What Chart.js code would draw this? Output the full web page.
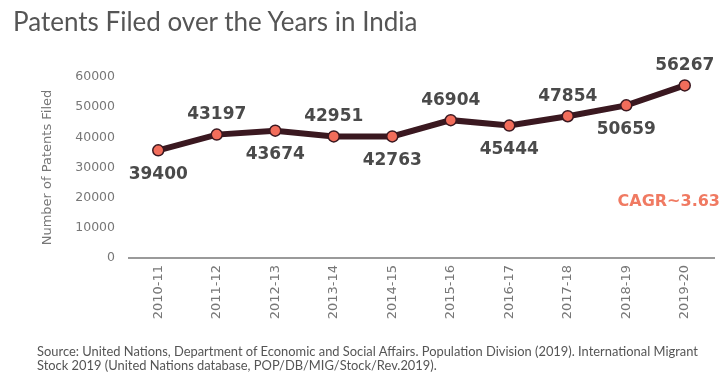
<!DOCTYPE html>
<html>
<head>
<meta charset="utf-8">
<script src="https://cdn.jsdelivr.net/npm/chart.js@4.4.1/dist/chart.umd.min.js"></script>
<style>
  body { margin: 0; background: #fff; }
  #wrap { position: relative; width: 721px; height: 375px; overflow: hidden; }
  #titulo { position: absolute; left: 13px; top: 5px; font: 26px Lato, sans-serif; color: #555; white-space: nowrap; }
  #cagr { position: absolute; right: 1px; top: 191px; font: bold 16px "DejaVu Sans", sans-serif; color: #f07a62; }
  #fonte { position: absolute; left: 37px; top: 344px; font: 12.9px Lato, sans-serif; color: #555; line-height: 14px; white-space: nowrap; }
  canvas { position: absolute; left: 0; top: 0; }
</style>
</head>
<body>
<div id="wrap">
  <canvas id="patentes" width="721" height="375"></canvas>
  <div id="titulo">Patents Filed over the Years in India</div>
  <div id="cagr">CAGR~3.63</div>
  <div id="fonte">Source: United Nations, Department of Economic and Social Affairs. Population Division (2019). International Migrant<br>Stock 2019 (United Nations database, POP/DB/MIG/Stock/Rev.2019).</div>
</div>
<script>
const anos = ['2010-11', '2011-12', '2012-13', '2013-14', '2014-15', '2015-16', '2016-17', '2017-18', '2018-19', '2019-20'];
// where the points sit on the y axis in the picture
const posicoes = [35700, 40900, 42200, 40300, 40300, 45700, 43900, 47000, 50600, 57200];
// the numbers printed next to the points
const rotulos = ['39400', '43197', '43674', '42951', '42763', '46904', '45444', '47854', '50659', '56267'];
const ticksY = [0, 10000, 20000, 30000, 40000, 50000, 60000];

const rotulosPlugin = {
    id: 'rotulos',
    afterDatasetsDraw(chart) {
        const ctx = chart.ctx;
        const pontos = chart.getDatasetMeta(0).data;
        ctx.save();
        ctx.font = 'bold 17px "DejaVu Sans", sans-serif';
        ctx.fillStyle = '#4a4a4a';
        ctx.textAlign = 'center';
        ctx.textBaseline = 'middle';
        pontos.forEach((p, i) => {
            const acima = i % 2 === 1;
            ctx.fillText(rotulos[i], p.x, acima ? p.y - 20 : p.y + 24);
        });
        ctx.restore();
    }
};

let config = {
    type: 'line',
    data: {
        labels: anos,
        datasets: [{
            data: posicoes,
            borderColor: '#3a1820',
            borderWidth: 6,
            pointRadius: 5.5,
            pointBackgroundColor: '#f26d5b',
            pointBorderColor: '#3a1820',
            pointBorderWidth: 1.5,
            tension: 0
        }]
    },
    options: {
        responsive: false,
        animation: false,
        layout: { padding: { top: 77, left: 36, right: 5, bottom: 0 } },
        plugins: { legend: { display: false }, tooltip: { enabled: false } },
        scales: {
            x: {
                offset: true,
                grid: { display: false, drawTicks: false },
                border: { display: true, color: '#9a9a9a', width: 2 },
                ticks: {
                    minRotation: 90, maxRotation: 90, padding: 7,
                    color: '#777', font: { family: 'DejaVu Sans', size: 13 }
                },
                afterFit(scale) { scale.height = 117; }
            },
            y: {
                min: 0, max: 60000,
                afterBuildTicks(scale) { scale.ticks = ticksY.map(v => ({ value: v })); },
                grid: { display: false, drawTicks: false },
                border: { display: false },
                ticks: {
                    padding: 14, color: '#777', font: { family: 'DejaVu Sans', size: 12.5 },
                    callback: v => String(v)
                },
                title: {
                    display: true, text: 'Number of Patents Filed', color: '#777',
                    font: { family: 'DejaVu Sans', size: 13 }, padding: { top: 4, bottom: 0 }
                },
                afterFit(scale) { scale.width = 93; }
            }
        }
    },
    plugins: [rotulosPlugin]
};

let ctx = document.getElementById('patentes').getContext('2d');
window.grafico = new Chart(ctx, config);
</script>
</body>
</html>
